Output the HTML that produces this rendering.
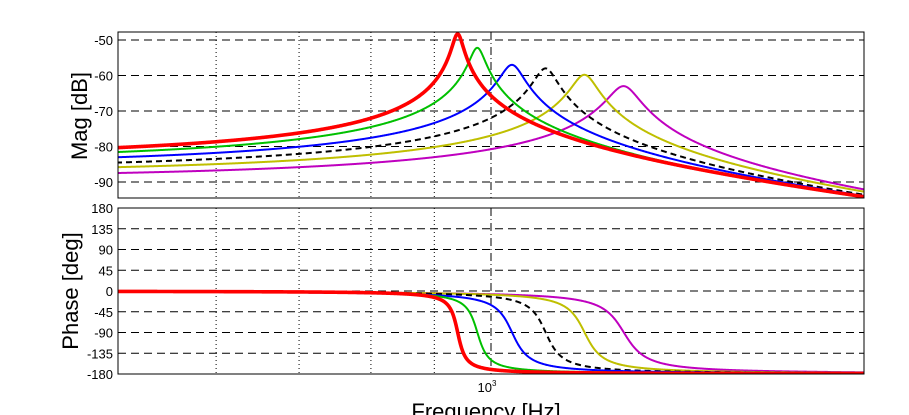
<!DOCTYPE html>
<html><head><meta charset="utf-8"><style>
html,body{margin:0;padding:0;background:#fff;}
svg{display:block;font-family:"Liberation Sans",Arial,sans-serif;}
</style></head><body>
<svg id="chart" width="909" height="415" viewBox="0 0 909 415" xmlns="http://www.w3.org/2000/svg"></svg>
<script>
// ---- data ----
const seriesNames = ['red','green','blue','black','yellow','magenta'];
const naturalFreqHz = [940, 975, 1040, 1107, 1190, 1280];
const dcGainDb = [-83.2, -84.2, -85.3, -86.5, -87.5, -88.9];
const peakGainDb = [-48.3, -52.2, -57.0, -58.0, -59.8, -63.0];
const magTicks = [-50, -60, -70, -80, -90];
const phaseTicks = [180, 135, 90, 45, 0, -45, -90, -135, -180];
const minorFreqGrid = [600, 700, 800, 900];
const majorFreqGrid = [1000];

const colors = ['#ff0000','#00c000','#0000ff','#000000','#bfbf00','#bf00bf'];
const widths = [3.6, 2, 2, 2, 2, 2];
const dashes = [null, null, null, '6,4', null, null];

const NS = 'http://www.w3.org/2000/svg';
const svg = document.getElementById('chart');
const L = 118, R = 864;
const magTop = 32, magBot = 198, phTop = 208, phBot = 374;
const f0 = 500, f1 = 2000;
function xf(f){ return L + (Math.log10(f) - Math.log10(f0)) / (Math.log10(f1) - Math.log10(f0)) * (R - L); }
function ym(db){ return 40 + (-50 - db) * (182 - 40) / 40; }
function yp(deg){ return phTop + (180 - deg) * (phBot - phTop) / 360; }

function mk(tag, attrs, parent){
  const e = document.createElementNS(NS, tag);
  for (const k in attrs) e.setAttribute(k, attrs[k]);
  (parent || svg).appendChild(e);
  return e;
}

function drawGrid(top, bot, ticks, yfn, labelFmt, name){
  const g = mk('g', {});
  
  
  ticks.forEach(t => {
    const y = yfn(t);
    if (y > top + 0.5 && y < bot - 0.5) {
      mk('line', {x1:L, x2:R, y1:y, y2:y, stroke:'#000', 'stroke-width':1, 'stroke-dasharray':'8,5'}, g);
    }
    const tx = mk('text', {x:113, y:y+5, 'text-anchor':'end', 'font-size':13, fill:'#000'}, g);
    tx.textContent = labelFmt(t);
    
    
  });
  minorFreqGrid.forEach(f => {
    mk('line', {x1:xf(f), x2:xf(f), y1:top, y2:bot, stroke:'#000', 'stroke-width':1, 'stroke-dasharray':'1,3'}, g);
  });
  majorFreqGrid.forEach(f => {
    mk('line', {x1:xf(f), x2:xf(f), y1:top, y2:bot, stroke:'#000', 'stroke-width':1, 'stroke-dasharray':'8,3,1,3'}, g);
  });
}

drawGrid(magTop, magBot, magTicks, ym, t => String(t), 'mag');
drawGrid(phTop, phBot, phaseTicks, yp, t => String(t), 'phase');

const defs = mk('defs', {});
const c1 = mk('clipPath', {id:'cm'}, defs); mk('rect', {x:L, y:magTop, width:R-L, height:magBot-magTop}, c1);
const c2 = mk('clipPath', {id:'cp'}, defs); mk('rect', {x:L, y:phTop, width:R-L, height:phBot-phTop}, c2);

const gm = mk('g', {'clip-path':'url(#cm)'});


const gp = mk('g', {'clip-path':'url(#cp)'});



const order = [5,4,3,2,1,0];
order.forEach(i => {
  const fn = naturalFreqHz[i], K = dcGainDb[i];
  const zeta = 1 / (2 * Math.pow(10, (peakGainDb[i] - K) / 20));
  const zp = zeta * 1.2;
  let dm = '', dp = '';
  for (let px = L - 2; px <= R + 2; px += 0.5) {
    const f = Math.pow(10, Math.log10(f0) + (px - L) / (R - L) * (Math.log10(f1) - Math.log10(f0)));
    const r = f / fn;
    const re = 1 - r*r, im = 2*zeta*r;
    const mag = K - 20*Math.log10(Math.sqrt(re*re + im*im));
    const ph = -Math.atan2(2*zp*r, re) * 180 / Math.PI;
    dm += (dm ? 'L' : 'M') + px.toFixed(1) + ',' + ym(mag).toFixed(2);
    dp += (dp ? 'L' : 'M') + px.toFixed(1) + ',' + yp(ph).toFixed(2);
  }
  const a = {fill:'none', stroke:colors[i], 'stroke-width':widths[i], 'stroke-linejoin':'round'};
  if (dashes[i]) a['stroke-dasharray'] = dashes[i];
  const pm = mk('path', Object.assign({d:dm}, a), gm);
  
  
  const pp = mk('path', Object.assign({d:dp}, a), gp);
  
  
});

const fr1 = mk('rect', {x:L, y:magTop, width:R-L, height:magBot-magTop, fill:'none', stroke:'#000', 'stroke-width':1});


const fr2 = mk('rect', {x:L, y:phTop, width:R-L, height:phBot-phTop, fill:'none', stroke:'#000', 'stroke-width':1});



const xl = mk('text', {x:xf(1000)-4, y:392, 'font-size':13, 'text-anchor':'middle'});
xl.innerHTML = '10<tspan dy="-6" font-size="8">3</tspan>';



const t1 = mk('text', {x:0, y:0, 'font-size':22, 'text-anchor':'middle', transform:'translate(87,116) rotate(-90)'});
t1.textContent = 'Mag [dB]';



const t2 = mk('text', {x:0, y:0, 'font-size':22, 'text-anchor':'middle', transform:'translate(78,291) rotate(-90)'});
t2.textContent = 'Phase [deg]';



const t3 = mk('text', {x:486, y:419, 'font-size':22, 'text-anchor':'middle'});
t3.textContent = 'Frequency [Hz]';


</script>
</body></html>
